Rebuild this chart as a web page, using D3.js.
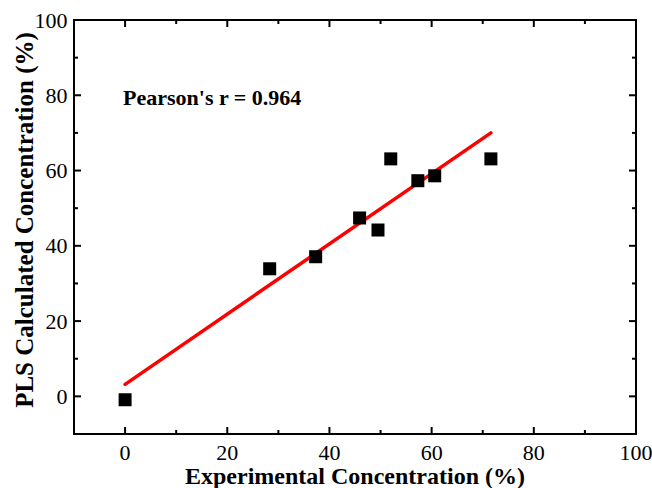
<!DOCTYPE html>
<html>
<head>
<meta charset="utf-8">
<script src="https://cdn.jsdelivr.net/npm/d3@7"></script>
<style>
  body { margin: 0; background: #fff; }
  text { font-family: "Liberation Serif", "Times New Roman", serif; }
</style>
</head>
<body>
<div id="chart"></div>
<script>
// measured points (experimental vs PLS calculated, %)
var expConc = [0, 28.3, 37.3, 45.9, 49.5, 52.0, 57.3, 60.6, 71.6];
var plsConc = [-0.9, 33.9, 37.1, 47.4, 44.2, 63.1, 57.3, 58.6, 63.1];
// fitted line end points
var fitX = [0, 71.6];
var fitY = [3.2, 70.0];
var xTicks = [0, 20, 40, 60, 80, 100];
var yTicks = [0, 20, 40, 60, 80, 100];
var pearson = "Pearson's r = 0.964";

var width = 652, height = 488;
var padL = 74, padR = 636, padT = 20, padB = 434;

var svg = d3.select("#chart").append("svg")
    .attr("width", width)
    .attr("height", height);

var x = d3.scaleLinear().domain([-10, 100]).range([padL, padR]);
var y = d3.scaleLinear().domain([-10, 100]).range([padB, padT]);

// inner ticks every 10, long ones on labelled values
var minor = d3.range(0, 100, 10);

function tickLine(g, vals, scale, horiz, pos, dir) {
  g.selectAll("line").data(vals).enter().append("line")
    .attr("x1", function(d) { return horiz ? scale(d) : pos; })
    .attr("x2", function(d) { return horiz ? scale(d) : pos + dir * (d % 20 === 0 ? 7 : 4); })
    .attr("y1", function(d) { return horiz ? pos : scale(d); })
    .attr("y2", function(d) { return horiz ? pos + dir * (d % 20 === 0 ? 7 : 4) : scale(d); })
    .attr("stroke", "#000")
    .attr("stroke-width", 2);
}

var ticks = svg.append("g");
tickLine(ticks.append("g"), minor, x, true, padB, -1);
tickLine(ticks.append("g"), minor, x, true, padT, 1);
tickLine(ticks.append("g"), minor, y, false, padL, 1);
tickLine(ticks.append("g"), minor, y, false, padR, -1);

// frame
svg.append("rect")
  .attr("x", padL).attr("y", padT)
  .attr("width", padR - padL).attr("height", padB - padT)
  .attr("fill", "none").attr("stroke", "#000").attr("stroke-width", 2);

// tick labels
svg.append("g").selectAll("text").data(xTicks).enter().append("text")
  .attr("x", function(d) { return x(d); })
  .attr("y", 460)
  .attr("text-anchor", "middle")
  .attr("font-size", "22px")
  .text(function(d) { return d; });

svg.append("g").selectAll("text").data(yTicks).enter().append("text")
  .attr("x", padL - 6.5)
  .attr("y", function(d) { return y(d) + 7.5; })
  .attr("text-anchor", "end")
  .attr("font-size", "22px")
  .text(function(d) { return d; });

// fit line
svg.append("line")
  .attr("x1", x(fitX[0])).attr("y1", y(fitY[0]))
  .attr("x2", x(fitX[1])).attr("y2", y(fitY[1]))
  .attr("stroke", "#ff0000")
  .attr("stroke-width", 3.5)
  .attr("stroke-linecap", "round");

// points
var sz = 13;
svg.append("g").selectAll("rect").data(expConc).enter().append("rect")
  .attr("x", function(d) { return x(d) - sz / 2; })
  .attr("y", function(d, i) { return y(plsConc[i]) - sz / 2; })
  .attr("width", sz).attr("height", sz)
  .attr("fill", "#000");

svg.append("text")
  .attr("x", 123).attr("y", 105)
  .attr("font-size", "22px")
  .attr("font-weight", "bold")
  .text(pearson);

svg.append("text")
  .attr("x", 355).attr("y", 484)
  .attr("text-anchor", "middle")
  .attr("font-size", "24px")
  .attr("font-weight", "bold")
  .text("Experimental Concentration (%)");

svg.append("text")
  .attr("transform", "translate(33," + 220 + ") rotate(-90)")
  .attr("text-anchor", "middle")
  .attr("font-size", "25px")
  .attr("font-weight", "bold")
  .text("PLS Calculated Concentration (%)");
</script>
</body>
</html>
